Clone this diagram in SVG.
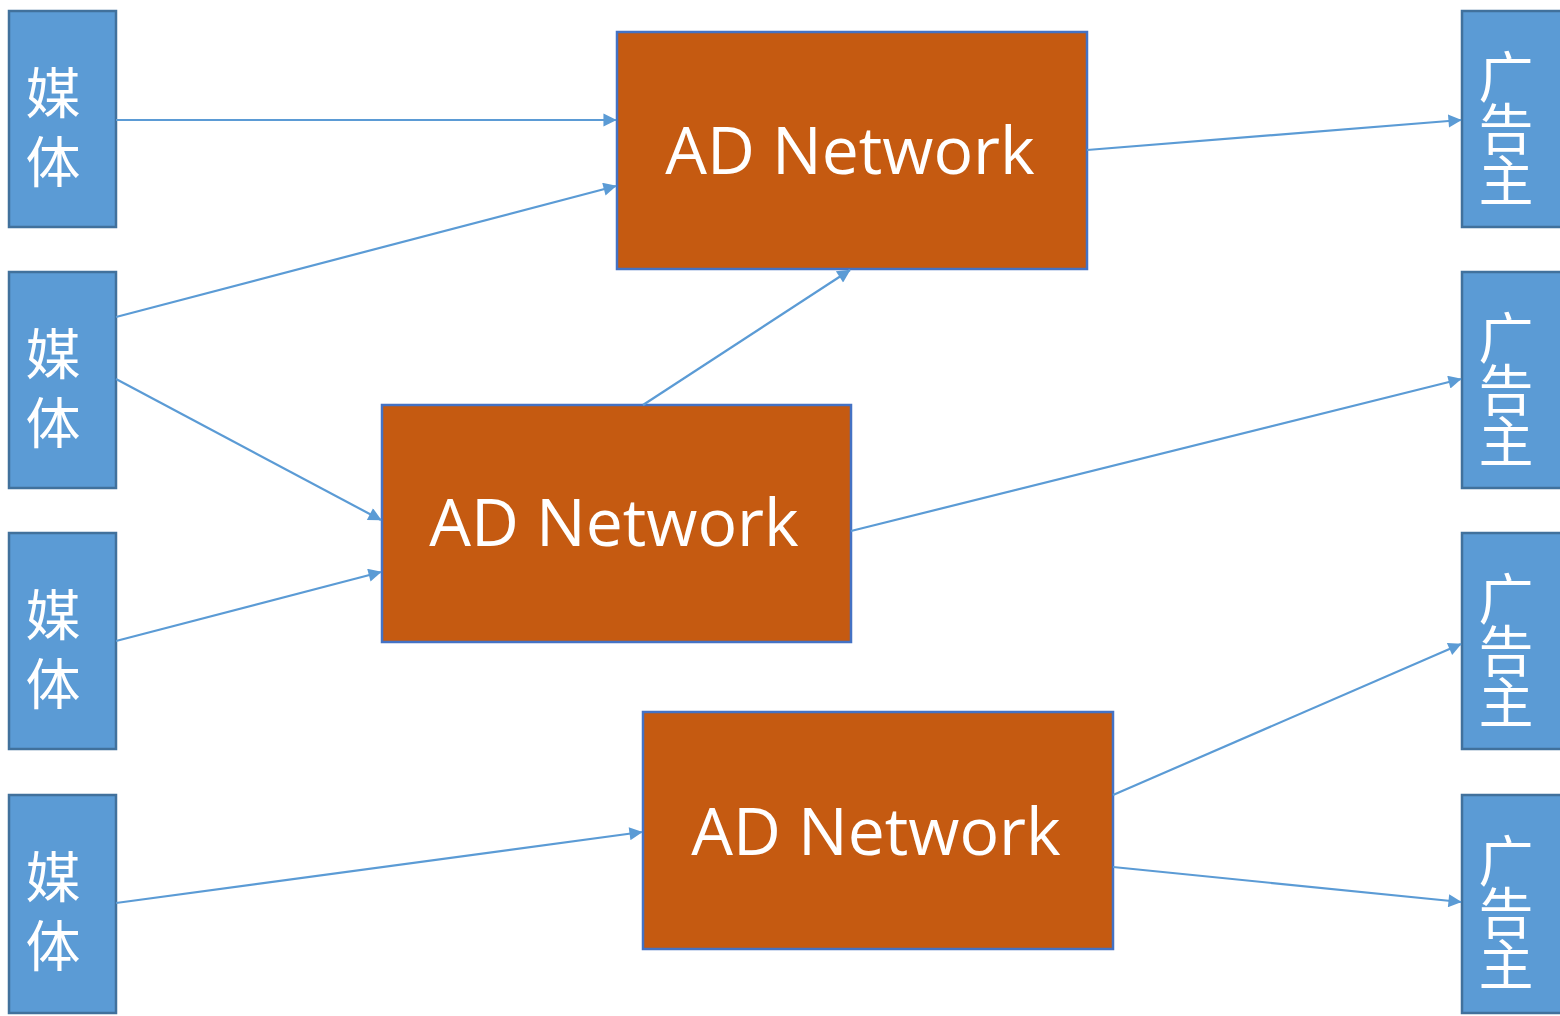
<svg xmlns="http://www.w3.org/2000/svg" width="1560" height="1016" viewBox="0 0 1560 1016">
<style>
.media{fill:#5B9BD5;stroke:#41719C;stroke-width:2.5}
.adv{fill:#5B9BD5;stroke:#41719C;stroke-width:2.5}
.net{fill:#C55A11;stroke:#4472C4;stroke-width:2.5}
.cm{font-family:"Noto Sans CJK SC","Noto Sans",sans-serif;fill:#fff;text-anchor:middle;font-size:55px}
.ca{font-family:"Noto Sans CJK SC","Noto Sans",sans-serif;fill:#fff;text-anchor:middle;font-size:55px}
.lbl{font-family:"Open Sans","Noto Sans",sans-serif;font-size:66px;fill:#fff;text-anchor:middle}
.conn line{stroke:#5B9BD5;stroke-width:2.2;fill:none;marker-end:url(#ah)}
</style>
<defs>
<marker id="ah" viewBox="0 0 10 10" refX="9.5" refY="5" markerWidth="7" markerHeight="6" markerUnits="strokeWidth" orient="auto">
<path d="M0,0 L10,5 L0,10 z" fill="#5B9BD5"/>
</marker>
</defs>
<rect width="1560" height="1016" fill="#fff"/>
<g id="media1"><rect class="media" x="9" y="11" width="107" height="216"/><text class="cm" x="53" y="113">媒</text><text class="cm" x="53" y="182">体</text></g>
<g id="media2"><rect class="media" x="9" y="272" width="107" height="216"/><text class="cm" x="53" y="374">媒</text><text class="cm" x="53" y="443">体</text></g>
<g id="media3"><rect class="media" x="9" y="533" width="107" height="216"/><text class="cm" x="53" y="635">媒</text><text class="cm" x="53" y="704">体</text></g>
<g id="media4"><rect class="media" x="9" y="795" width="107" height="218"/><text class="cm" x="53" y="897">媒</text><text class="cm" x="53" y="966">体</text></g>
<g id="adv1"><rect class="adv" x="1462" y="11" width="110" height="216"/><text class="ca" x="1506" y="97">广</text><text class="ca" x="1506" y="149">告</text><text class="ca" x="1506" y="201">主</text></g>
<g id="adv2"><rect class="adv" x="1462" y="272" width="110" height="216"/><text class="ca" x="1506" y="358">广</text><text class="ca" x="1506" y="410">告</text><text class="ca" x="1506" y="462">主</text></g>
<g id="adv3"><rect class="adv" x="1462" y="533" width="110" height="216"/><text class="ca" x="1506" y="619">广</text><text class="ca" x="1506" y="671">告</text><text class="ca" x="1506" y="723">主</text></g>
<g id="adv4"><rect class="adv" x="1462" y="795" width="110" height="218"/><text class="ca" x="1506" y="881">广</text><text class="ca" x="1506" y="933">告</text><text class="ca" x="1506" y="985">主</text></g>
<g id="net1"><rect class="net" x="617" y="32" width="470" height="237"/><text class="lbl" x="850" y="174">AD Network</text></g>
<g id="net2"><rect class="net" x="382" y="405" width="469" height="237"/><text class="lbl" x="614" y="546">AD Network</text></g>
<g id="net3"><rect class="net" x="643" y="712" width="470" height="237"/><text class="lbl" x="876" y="855">AD Network</text></g>
<g id="connectors" class="conn">
<line x1="116" y1="120" x2="616" y2="120"/>
<line x1="116" y1="317" x2="616" y2="186"/>
<line x1="116" y1="379" x2="381" y2="520"/>
<line x1="116" y1="641" x2="381" y2="572"/>
<line x1="116" y1="903" x2="642" y2="832"/>
<line x1="643" y1="405" x2="850" y2="270"/>
<line x1="1087" y1="150" x2="1461" y2="120"/>
<line x1="851" y1="531" x2="1461" y2="379"/>
<line x1="1113" y1="795" x2="1461" y2="644"/>
<line x1="1113" y1="867" x2="1461" y2="902"/>
</g>
</svg>
